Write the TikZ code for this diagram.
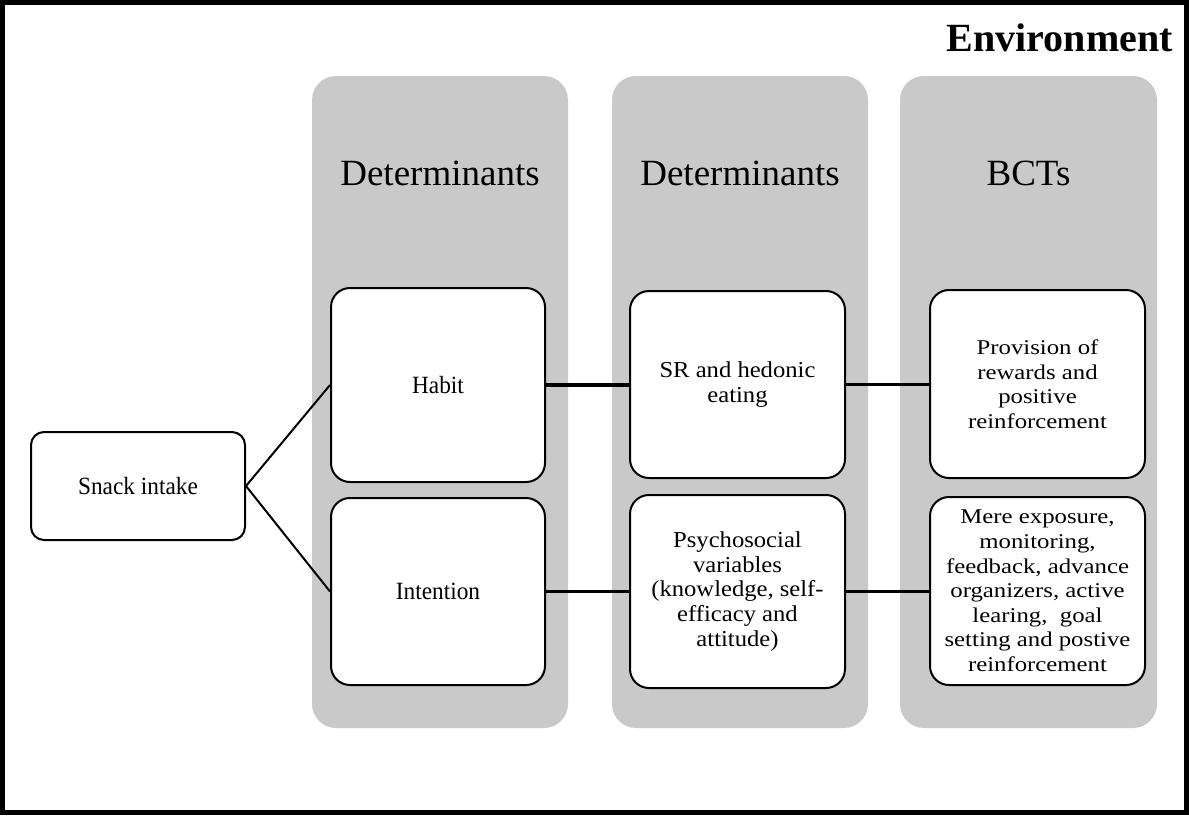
\documentclass[tikz,border=0pt]{standalone}
\usepackage{fontspec}
\setmainfont{Liberation Serif}
\newfontfamily\narrowfont[FakeStretch=0.94]{Liberation Serif}
\newfontfamily\midfont[FakeStretch=1.08]{Liberation Serif}
\newfontfamily\widefont[FakeStretch=1.18]{Liberation Serif}
\definecolor{colgray}{RGB}{201,201,201}
\begin{document}
\begin{tikzpicture}[x=1pt,y=-1pt,
  column/.style={fill=colgray, rounded corners=24pt, minimum width=256pt,
    minimum height=652pt, inner sep=0pt},
  header/.style={font=\fontsize{37}{40}\selectfont, inner sep=0pt},
  box/.style={draw, line width=2pt, rounded corners=19pt, fill=white,
    align=center, inner sep=0pt, font=\midfont\fontsize{22.8}{24.7}\selectfont},
  leftbox/.style={box, font=\narrowfont\fontsize{24.8}{26}\selectfont},
  rightbox/.style={box, font=\widefont\fontsize{21}{24.6}\selectfont},
  link/.style={line width=3.2pt},
  diag/.style={line width=2pt}]
\useasboundingbox (0,0) rectangle (1189,815);

% outer environment frame
\draw[line width=4.5pt] (2.5,2.5) rectangle (1186.5,812.5);
\node[font=\bfseries\fontsize{40}{44}\selectfont, anchor=base east, inner sep=0pt]
  (env) at (1173,51) {Environment};

% grey columns
\node[column] (col1) at (440,402) {};
\node[column] (col2) at (740,402) {};
\node[column, minimum width=257pt] (col3) at (1028.5,402) {};

% column headers
\node[header] (hd1) at (440,173) {Determinants};
\node[header] (hd2) at (740,173) {Determinants};
\node[header] (hd3) at (1028.5,173) {BCTs};

% boxes
\node[leftbox, rounded corners=13pt, minimum width=214pt, minimum height=108pt]
  (snack) at (138,486) {Snack intake};
\node[leftbox, minimum width=214pt, minimum height=194pt] (habit) at (438,385) {Habit};
\node[leftbox, minimum width=214pt, minimum height=187pt] (intention) at (438,591.5) {Intention};
\node[box, minimum width=215pt, minimum height=187pt] (sr) at (737.5,384.5)
  {SR and hedonic\\eating};
\node[box, minimum width=215pt, minimum height=193pt] (psych) at (737.5,591.5)
  {Psychosocial\\variables\\(knowledge, self-\\efficacy and\\attitude)};
\node[rightbox, minimum width=215pt, minimum height=188pt] (prov) at (1037.5,384)
  {Provision of\\rewards and\\positive\\reinforcement};
\node[rightbox, minimum width=215pt, minimum height=188pt] (mere) at (1037.5,591)
  {Mere exposure,\\monitoring,\\feedback, advance\\organizers, active\\learing,\ \ goal\\setting and postive\\reinforcement};

% connectors
\draw[diag] (snack.east) -- (habit.west);
\draw[diag] (snack.east) -- (intention.west);
\draw[link] (habit.east) -- (habit.east -| sr.west);
\draw[link] (sr.east) -- (sr.east -| prov.west);
\draw[link] (intention.east) -- (intention.east -| psych.west);
\draw[link] (psych.east) -- (psych.east -| mere.west);
\end{tikzpicture}
\end{document}
